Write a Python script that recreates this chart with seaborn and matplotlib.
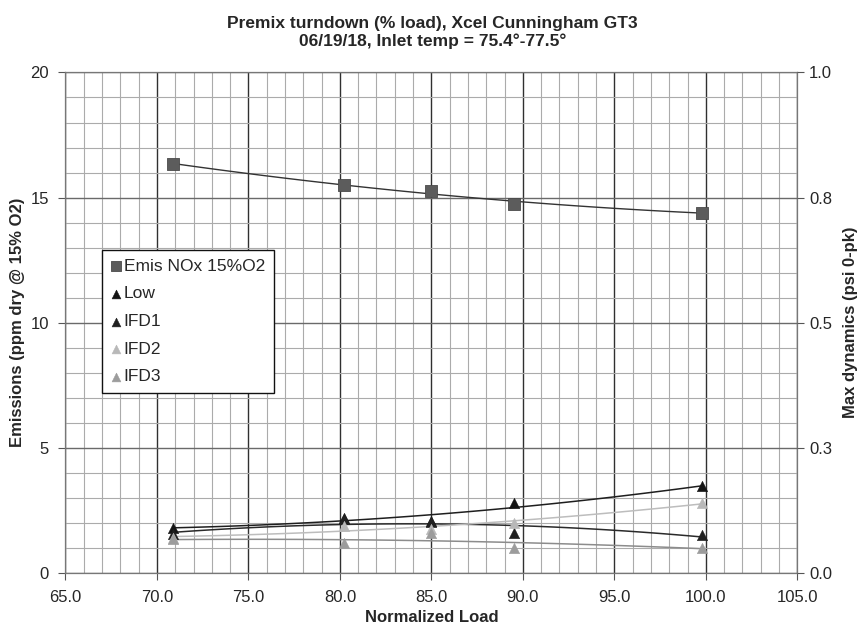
import matplotlib
matplotlib.use("Agg")
import matplotlib.pyplot as plt
import seaborn as sns
import pandas as pd
from matplotlib.ticker import MultipleLocator

# data
load = [70.9, 80.2, 85.0, 89.5, 99.8]
nox = [16.35, 15.5, 15.25, 14.75, 14.4]          # ppm dry @ 15% O2 (left axis)
low = [0.090, 0.110, 0.103, 0.140, 0.173]        # psi 0-pk (right axis)
ifd1 = [0.077, 0.108, 0.102, 0.080, 0.076]
ifd2 = [0.070, 0.094, 0.088, 0.100, 0.140]
ifd3 = [0.067, 0.060, 0.080, 0.050, 0.050]
x_ticks = [65, 70, 75, 80, 85, 90, 95, 100, 105]
right_ticks = [0.0, 0.25, 0.5, 0.75, 1.0]
right_labels = ["0.0", "0.3", "0.5", "0.8", "1.0"]

sns.set_style("white")
plt.rcParams['font.family'] = ['Liberation Sans', 'DejaVu Sans']

fig = plt.figure(figsize=(8.65, 6.28), dpi=100)
ax = fig.add_axes([0.0757, 0.0876, 0.846, 0.797])
ax2 = ax.twinx()

df = pd.DataFrame({'load': load, 'nox': nox, 'low': low, 'ifd1': ifd1,
                   'ifd2': ifd2, 'ifd3': ifd3})

# NOx series + polynomial trendline
sns.regplot(data=df, x='load', y='nox', order=2, ci=None, scatter=False, ax=ax,
            line_kws={'color': '#333333', 'lw': 1.0})
sns.scatterplot(data=df, x='load', y='nox', marker='s', s=70, color='#5c5c5c',
                edgecolor='#4a4a4a', linewidth=0.6, ax=ax, label='Emis NOx 15%O2',
                legend=False, zorder=5)

# dynamics on the right axis
series = [('low', 'Low', '#141414', '#1e1e1e'),
          ('ifd1', 'IFD1', '#202020', '#2a2a2a'),
          ('ifd2', 'IFD2', '#b8b8b8', '#bdbdbd'),
          ('ifd3', 'IFD3', '#9c9c9c', '#8c8c8c')]
for col, name, mcolor, lcolor in series:
    sns.regplot(data=df, x='load', y=col, order=2, ci=None, scatter=False, ax=ax2,
                line_kws={'color': lcolor, 'lw': 1.1})
for col, name, mcolor, lcolor in series:
    sns.scatterplot(data=df, x='load', y=col, marker='^', s=55, color=mcolor,
                    edgecolor=mcolor, linewidth=0.4, ax=ax2, label=name,
                    legend=False, zorder=5)

# axes, ticks and grid (after plotting so the shared x range sticks)
ax.set_xlim(65, 105)
ax.set_ylim(0, 20)
ax.set_xticks(x_ticks)
ax.set_xticklabels([f"{v:.1f}" for v in x_ticks])
ax.xaxis.set_minor_locator(MultipleLocator(1))
ax.yaxis.set_major_locator(MultipleLocator(5))
ax.yaxis.set_minor_locator(MultipleLocator(1))
ax.grid(which='minor', color='#ababab', lw=0.8)
ax.grid(which='major', axis='x', color='#303030', lw=1.0)
ax.grid(which='major', axis='y', color='#6a6a6a', lw=1.0)
ax.set_axisbelow(True)
ax.tick_params(which='major', direction='out', length=5, width=0.8, color='#555555',
               labelsize=12, left=True, bottom=True, pad=7)
ax.tick_params(which='minor', length=0)
for s in ax.spines.values():
    s.set_color('#777777')
    s.set_linewidth(0.9)

ax2.set_xlim(65, 105)
ax2.set_ylim(0, 1.0)
ax2.set_yticks(right_ticks)
ax2.set_yticklabels(right_labels)
ax2.tick_params(axis='y', direction='out', length=5, width=0.8, color='#555555',
                labelsize=12, right=True)
ax2.grid(False)
for s in ax2.spines.values():
    s.set_visible(False)

ax.set_xlabel("Normalized Load", fontsize=12, fontweight='bold', labelpad=4)
ax.set_ylabel("Emissions (ppm dry @ 15% O2)", fontsize=12, fontweight='bold', labelpad=4)
ax2.set_ylabel("Max dynamics (psi 0-pk)", fontsize=12, fontweight='bold', labelpad=8)
fig.suptitle("Premix turndown (% load), Xcel Cunningham GT3\n06/19/18, Inlet temp = 75.4\u00b0-77.5\u00b0",
             fontsize=12.5, fontweight='bold', x=0.5, y=0.975, linespacing=1.2)

h1, l1 = ax.get_legend_handles_labels()
h2, l2 = ax2.get_legend_handles_labels()
leg = ax2.legend(h1 + h2, l1 + l2, loc='upper left', bbox_to_anchor=(0.118, 0.602),
                 bbox_transform=fig.transFigure, fontsize=12.5, frameon=True,
                 fancybox=False, framealpha=1, edgecolor='#111111',
                 handlelength=0.55, handletextpad=0.2, labelspacing=0.72,
                 borderpad=0.5, borderaxespad=0, markerscale=0.85)
leg.get_frame().set_linewidth(1.0)

fig.savefig("out.png", dpi=100)
